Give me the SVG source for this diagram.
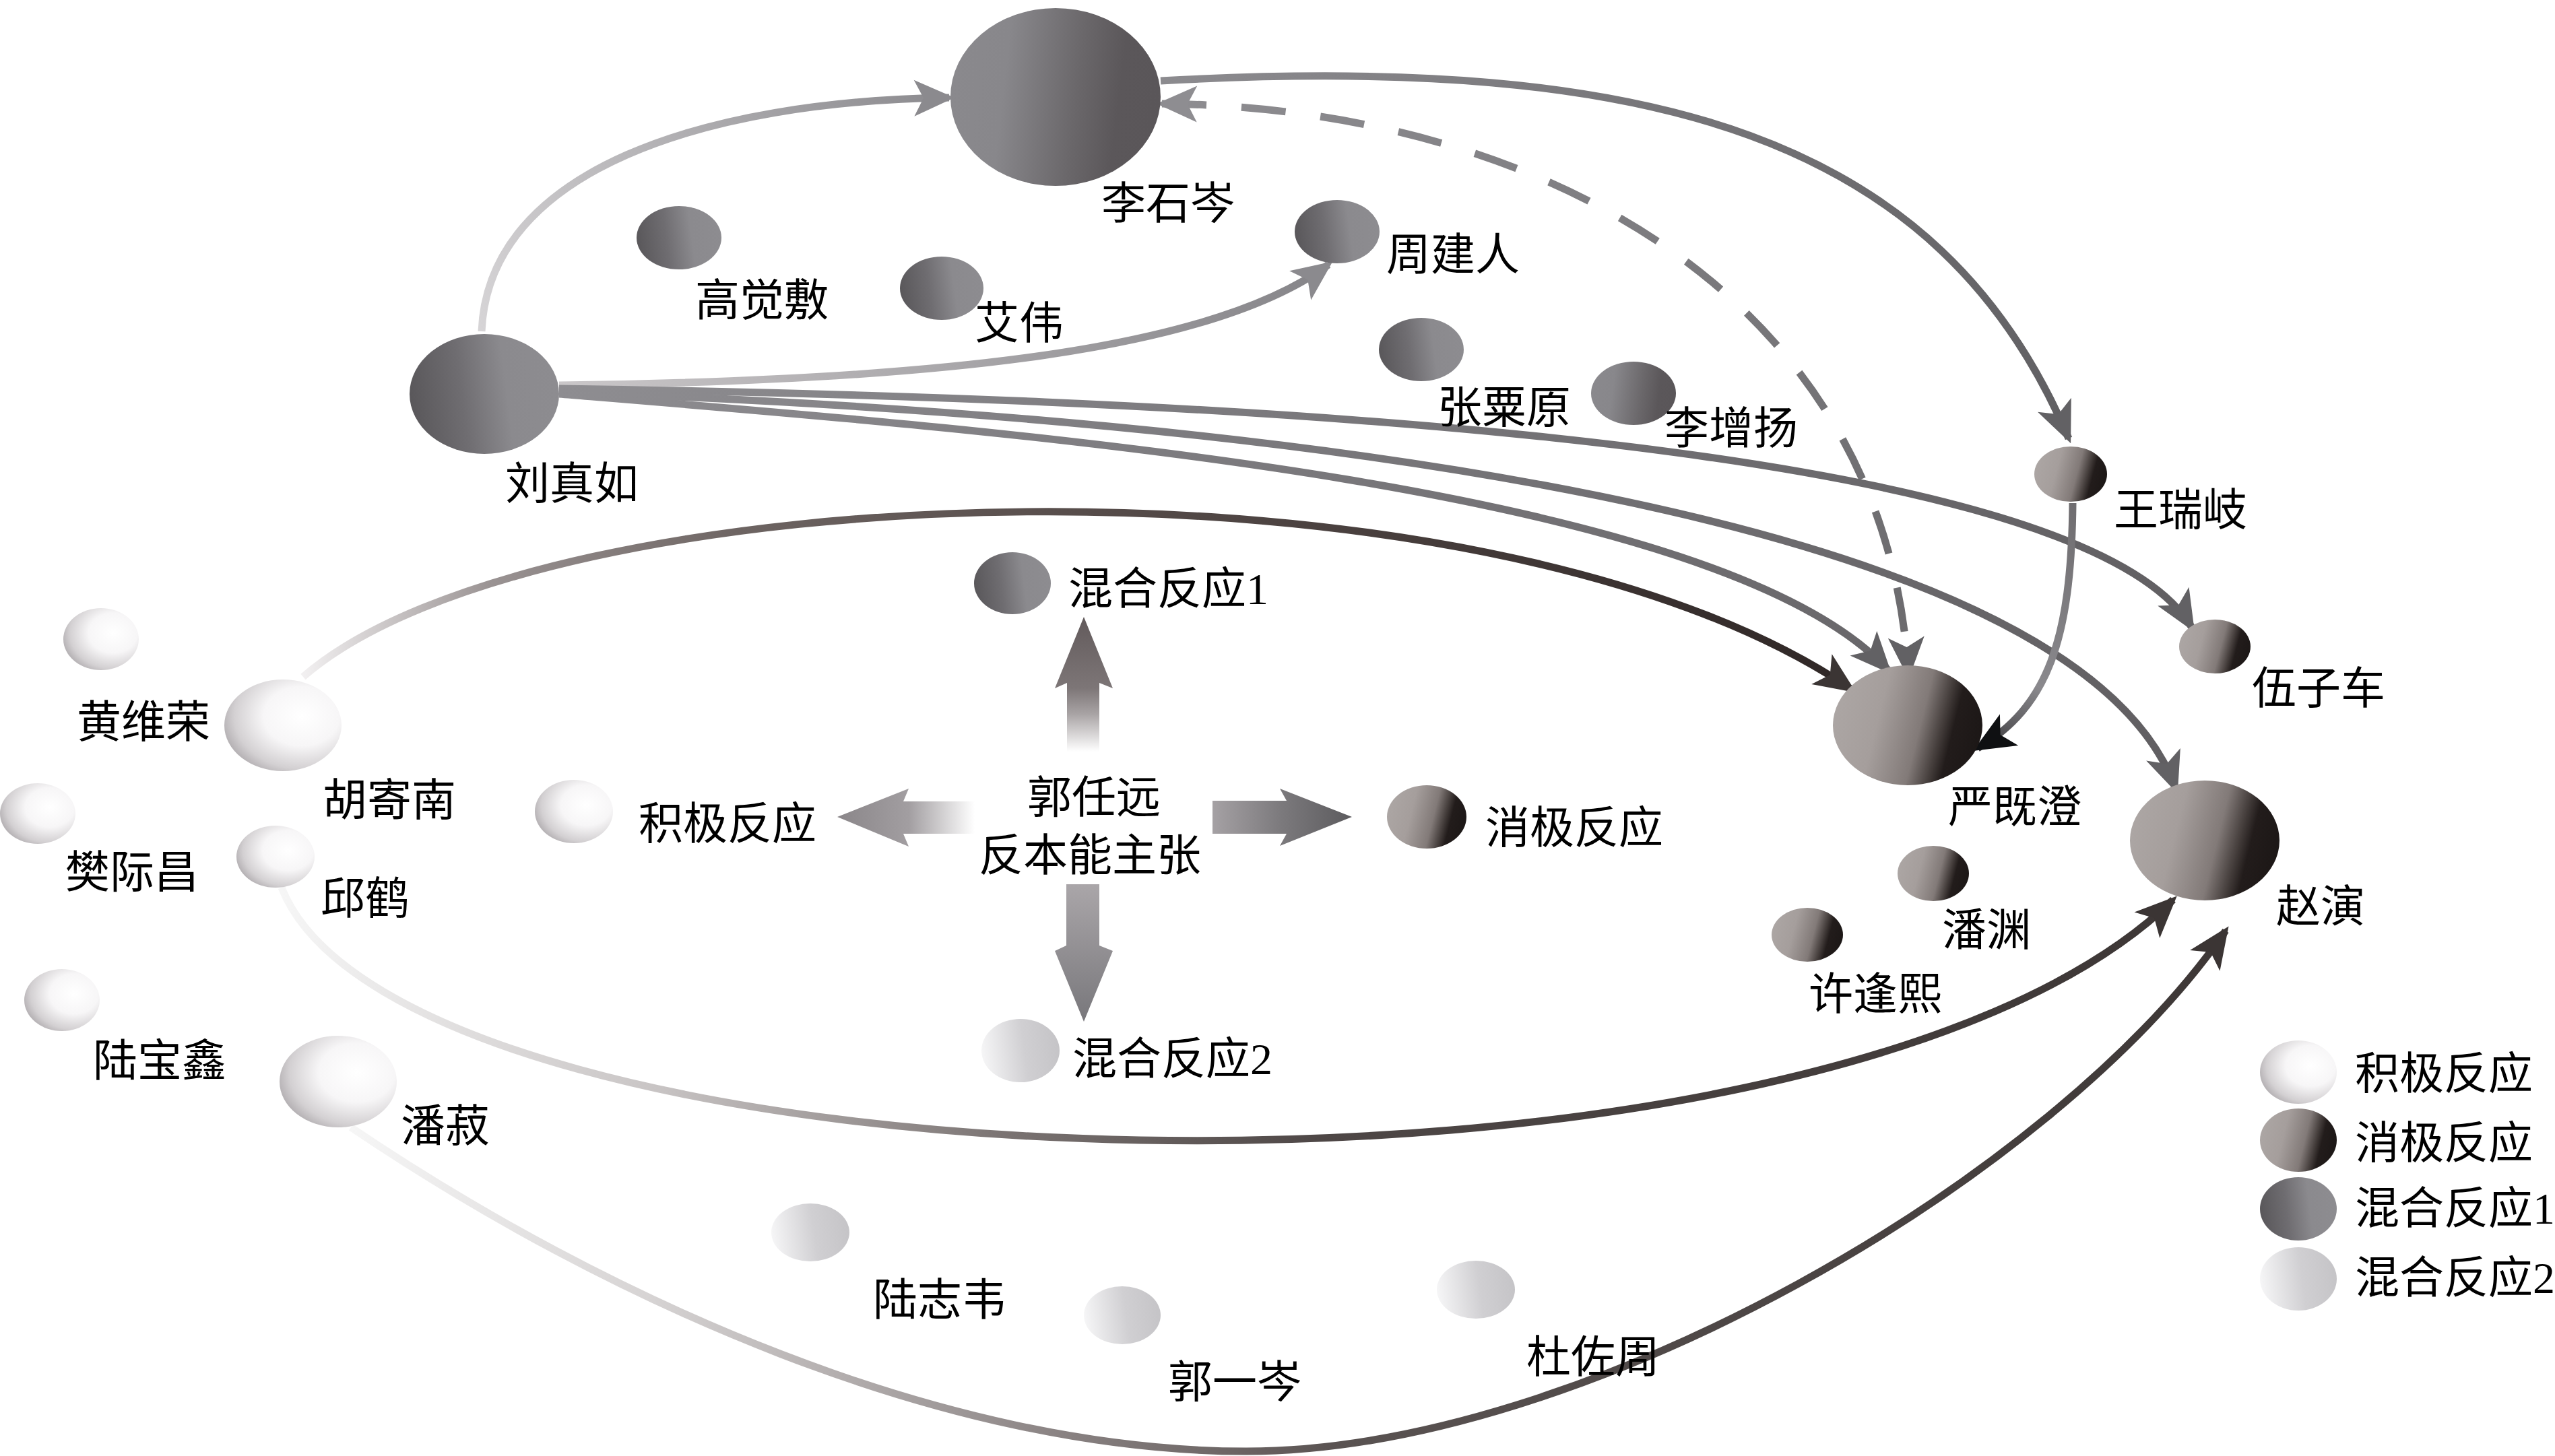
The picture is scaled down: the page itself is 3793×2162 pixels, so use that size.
<svg xmlns="http://www.w3.org/2000/svg" width="3793" height="2162" viewBox="0 0 3793 2162">
<style>
.lbl{font-family:'Liberation Serif','Noto Sans CJK SC',serif;font-size:66px;fill:#000}
.conn{fill:none;stroke-width:11}
</style>
<defs>
<radialGradient id="gPos" cx="0.66" cy="0.4" r="0.72">
<stop offset="0" stop-color="#ffffff"/><stop offset="0.45" stop-color="#f7f6f7"/><stop offset="0.8" stop-color="#d3d0d2"/><stop offset="1" stop-color="#aca8ab"/>
</radialGradient>
<linearGradient id="gNeg" x1="0" y1="0.4" x2="1" y2="0.6">
<stop offset="0" stop-color="#aca6a4"/><stop offset="0.3" stop-color="#a59e9c"/><stop offset="0.58" stop-color="#827a78"/><stop offset="0.72" stop-color="#453e3c"/><stop offset="0.8" stop-color="#221c1b"/><stop offset="1" stop-color="#1c1716"/>
</linearGradient>
<linearGradient id="gMix1" x1="0" y1="0.55" x2="1" y2="0.45">
<stop offset="0" stop-color="#59575a"/><stop offset="0.35" stop-color="#6f6d71"/><stop offset="0.65" stop-color="#8b8a8e"/><stop offset="1" stop-color="#8d8c90"/>
</linearGradient>
<linearGradient id="gMix1r" x1="0" y1="0.45" x2="1" y2="0.55">
<stop offset="0" stop-color="#8a898d"/><stop offset="0.25" stop-color="#88878b"/><stop offset="0.6" stop-color="#6a676a"/><stop offset="0.8" stop-color="#5b575a"/><stop offset="1" stop-color="#5a5659"/>
</linearGradient>
<linearGradient id="gMix2" x1="0" y1="0.55" x2="1" y2="0.45">
<stop offset="0" stop-color="#f6f6f7"/><stop offset="0.55" stop-color="#d0cfd2"/><stop offset="1" stop-color="#c5c4c7"/>
</linearGradient>
<linearGradient id="gc1" gradientUnits="userSpaceOnUse" x1="715" y1="492" x2="1409" y2="145">
<stop offset="0" stop-color="#d6d4d6"/><stop offset="1" stop-color="#8b8a8e"/>
</linearGradient>
<linearGradient id="gc2" gradientUnits="userSpaceOnUse" x1="1723" y1="120" x2="3071" y2="651">
<stop offset="0" stop-color="#8c8b8f"/><stop offset="1" stop-color="#605f62"/>
</linearGradient>
<linearGradient id="gc3" gradientUnits="userSpaceOnUse" x1="1725" y1="154" x2="2833" y2="1000">
<stop offset="0" stop-color="#8e8d91"/><stop offset="1" stop-color="#6b6a6d"/>
</linearGradient>
<linearGradient id="gc4" gradientUnits="userSpaceOnUse" x1="830" y1="572" x2="1972" y2="393">
<stop offset="0" stop-color="#cac7c9"/><stop offset="0.5" stop-color="#a9a7aa"/><stop offset="1" stop-color="#858488"/>
</linearGradient>
<linearGradient id="gc5" gradientUnits="userSpaceOnUse" x1="830" y1="580" x2="3250" y2="1100">
<stop offset="0" stop-color="#8e8d91"/><stop offset="1" stop-color="#605e61"/>
</linearGradient>
<linearGradient id="gc8" gradientUnits="userSpaceOnUse" x1="450" y1="1005" x2="2749" y2="1024">
<stop offset="0" stop-color="#f2f0f1"/><stop offset="0.12" stop-color="#9a9393"/><stop offset="0.28" stop-color="#6d6462"/><stop offset="0.5" stop-color="#574d4b"/><stop offset="1" stop-color="#2f2726"/>
</linearGradient>
<linearGradient id="gc9" gradientUnits="userSpaceOnUse" x1="3077" y1="747" x2="2936" y2="1111">
<stop offset="0" stop-color="#6f6d70"/><stop offset="0.7" stop-color="#8a898d"/><stop offset="1" stop-color="#3a393c"/>
</linearGradient>
<linearGradient id="gc10" gradientUnits="userSpaceOnUse" x1="418" y1="1318" x2="3226" y2="1336">
<stop offset="0" stop-color="#f6f6f6"/><stop offset="0.2" stop-color="#c8c4c4"/><stop offset="0.38" stop-color="#7b7473"/><stop offset="0.55" stop-color="#4e4746"/><stop offset="1" stop-color="#3d3736"/>
</linearGradient>
<linearGradient id="gc11" gradientUnits="userSpaceOnUse" x1="521" y1="1674" x2="3304" y2="1382">
<stop offset="0" stop-color="#f6f6f6"/><stop offset="0.15" stop-color="#d6d3d3"/><stop offset="0.35" stop-color="#8c8585"/><stop offset="0.5" stop-color="#5a5352"/><stop offset="1" stop-color="#3d3736"/>
</linearGradient>
<linearGradient id="gUp" gradientUnits="userSpaceOnUse" x1="0" y1="916" x2="0" y2="1116">
<stop offset="0" stop-color="#625a5b"/><stop offset="0.53" stop-color="#7d7677"/><stop offset="0.72" stop-color="#a8a3a4"/><stop offset="1" stop-color="#ffffff"/>
</linearGradient>
<linearGradient id="gLeft" gradientUnits="userSpaceOnUse" x1="1243" y1="0" x2="1447" y2="0">
<stop offset="0" stop-color="#8a8689"/><stop offset="0.52" stop-color="#a29ea1"/><stop offset="1" stop-color="#ffffff"/>
</linearGradient>
<linearGradient id="gRight" gradientUnits="userSpaceOnUse" x1="1800" y1="0" x2="2007" y2="0">
<stop offset="0" stop-color="#a5a1a4"/><stop offset="0.5" stop-color="#7b797c"/><stop offset="1" stop-color="#5c5b5e"/>
</linearGradient>
<linearGradient id="gDown" gradientUnits="userSpaceOnUse" x1="0" y1="1313" x2="0" y2="1517">
<stop offset="0" stop-color="#aaa6a9"/><stop offset="1" stop-color="#78777b"/>
</linearGradient>
<marker id="mLight" markerUnits="userSpaceOnUse" viewBox="-66 -30 70 60" refX="-8" refY="0" markerWidth="70" markerHeight="60" orient="auto"><path d="M0,0 L-60,-27 L-46,0 L-60,27 Z" fill="#8b8a8e"/></marker>
<marker id="mLightS" markerUnits="userSpaceOnUse" viewBox="-66 -30 70 60" refX="-8" refY="0" markerWidth="70" markerHeight="60" orient="auto-start-reverse"><path d="M0,0 L-60,-27 L-46,0 L-60,27 Z" fill="#8e8d91"/></marker>
<marker id="mMid" markerUnits="userSpaceOnUse" viewBox="-66 -30 70 60" refX="-8" refY="0" markerWidth="70" markerHeight="60" orient="auto"><path d="M0,0 L-62,-27 L-47,0 L-62,27 Z" fill="#626164"/></marker>
<marker id="mDark" markerUnits="userSpaceOnUse" viewBox="-66 -30 70 60" refX="-8" refY="0" markerWidth="70" markerHeight="60" orient="auto"><path d="M0,0 L-62,-27 L-47,0 L-62,27 Z" fill="#3b3534"/></marker>
<marker id="mBlack" markerUnits="userSpaceOnUse" viewBox="-66 -30 70 60" refX="-8" refY="0" markerWidth="70" markerHeight="60" orient="auto"><path d="M0,0 L-62,-27 L-47,0 L-62,27 Z" fill="#0f1012"/></marker>
</defs>
<rect width="3793" height="2162" fill="#ffffff"/>

<g id="connectors">
<path class="conn" stroke="url(#gc1)" d="M 715 492 C 725 250, 1050 150, 1409 145" marker-end="url(#mLight)"/>
<path class="conn" stroke="url(#gc2)" d="M 1723 120 C 2450 80, 2880 200, 3071 651" marker-end="url(#mMid)"/>
<path class="conn" stroke="url(#gc3)" stroke-dasharray="66 52" stroke-width="10" d="M 1725 154 C 2300 160, 2800 450, 2833 1000" marker-start="url(#mLightS)" marker-end="url(#mMid)"/>
<path class="conn" stroke="url(#gc4)" d="M 830 572 C 1400 565, 1800 520, 1972 393" marker-end="url(#mLight)"/>
<path class="conn" stroke="url(#gc5)" d="M 830 577 C 1700 590, 3080 640, 3254 932" marker-end="url(#mMid)"/>
<path class="conn" stroke="url(#gc5)" d="M 830 582 C 1900 620, 3080 760, 3230 1171" marker-end="url(#mMid)"/>
<path class="conn" stroke="url(#gc5)" d="M 830 585 C 1500 640, 2550 720, 2803 995" marker-end="url(#mMid)"/>
<path class="conn" stroke="url(#gc8)" d="M 450 1005 C 800 700, 2200 650, 2749 1024" marker-end="url(#mDark)"/>
<path class="conn" stroke="url(#gc9)" d="M 3077 747 C 3075 950, 3040 1050, 2936 1111" marker-end="url(#mBlack)"/>
<path class="conn" stroke="url(#gc10)" d="M 418 1318 C 600 1780, 2700 1850, 3226 1336" marker-end="url(#mDark)"/>
<path class="conn" stroke="url(#gc11)" d="M 521 1674 C 900 1930, 1400 2155, 1850 2155 C 2350 2155, 3050 1750, 3304 1382" marker-end="url(#mDark)"/>
</g>

<g id="center">
<polygon fill="url(#gUp)" points="1609,916 1652,1022 1632,1014 1632,1116 1584,1116 1584,1014 1566,1022"/>
<polygon fill="url(#gLeft)" points="1243,1213 1349,1171 1341,1190 1447,1190 1447,1238 1341,1238 1349,1257"/>
<polygon fill="url(#gRight)" points="1800,1189 1910,1189 1900,1171 2007,1213 1900,1256 1910,1238 1800,1238"/>
<polygon fill="url(#gDown)" points="1583,1313 1632,1313 1632,1404 1652,1412 1609,1517 1566,1412 1583,1404"/>
<text class="lbl" x="1624" y="1207" text-anchor="middle">郭任远</text>
<text class="lbl" x="1618" y="1293" text-anchor="middle">反本能主张</text>
</g>

<g id="n-lishicen"><ellipse cx="1567" cy="144" rx="156" ry="132" fill="url(#gMix1r)"/><text class="lbl" x="1635" y="325">李石岑</text></g>
<g id="n-gaojuefu"><ellipse cx="1008" cy="353" rx="63" ry="47" fill="url(#gMix1)"/><text class="lbl" x="1032" y="469">高觉敷</text></g>
<g id="n-aiwei"><ellipse cx="1398" cy="428" rx="62" ry="47" fill="url(#gMix1)"/><text class="lbl" x="1447" y="503">艾伟</text></g>
<g id="n-zhoujianren"><ellipse cx="1985" cy="344" rx="63" ry="47" fill="url(#gMix1)"/><text class="lbl" x="2058" y="401">周建人</text></g>
<g id="n-liuzhenru"><ellipse cx="719" cy="585" rx="111" ry="89" fill="url(#gMix1)"/><text class="lbl" x="750" y="741">刘真如</text></g>
<g id="n-zhangsuyuan"><ellipse cx="2110" cy="519" rx="63" ry="47" fill="url(#gMix1)"/><text class="lbl" x="2134" y="628">张粟原</text></g>
<g id="n-lizengyang"><ellipse cx="2425" cy="584" rx="63" ry="47" fill="url(#gMix1r)"/><text class="lbl" x="2471" y="659">李增扬</text></g>
<g id="n-wangruiqi"><ellipse cx="3074" cy="704" rx="54" ry="41" fill="url(#gNeg)"/><text class="lbl" x="3138" y="780">王瑞岐</text></g>
<g id="n-wuziche"><ellipse cx="3288" cy="960" rx="53" ry="40" fill="url(#gNeg)"/><text class="lbl" x="3343" y="1045">伍子车</text></g>
<g id="n-mix1"><ellipse cx="1503" cy="866" rx="57" ry="46" fill="url(#gMix1)"/><text class="lbl" x="1586" y="897">混合反应1</text></g>
<g id="n-huangweirong"><ellipse cx="150" cy="949" rx="56" ry="46" fill="url(#gPos)"/><text class="lbl" x="114" y="1095">黄维荣</text></g>
<g id="n-hujinan"><ellipse cx="420" cy="1077" rx="87" ry="68" fill="url(#gPos)"/><text class="lbl" x="479" y="1211">胡寄南</text></g>
<g id="n-fanjichang"><ellipse cx="56" cy="1208" rx="56" ry="45" fill="url(#gPos)"/><text class="lbl" x="97" y="1318">樊际昌</text></g>
<g id="n-qiuhe"><ellipse cx="409" cy="1272" rx="58" ry="46" fill="url(#gPos)"/><text class="lbl" x="476" y="1357">邱鹤</text></g>
<g id="n-pos"><ellipse cx="852" cy="1205" rx="58" ry="47" fill="url(#gPos)"/><text class="lbl" x="948" y="1246">积极反应</text></g>
<g id="n-neg"><ellipse cx="2118" cy="1213" rx="59" ry="47" fill="url(#gNeg)"/><text class="lbl" x="2205" y="1252">消极反应</text></g>
<g id="n-yanjicheng"><ellipse cx="2832" cy="1077" rx="111" ry="89" fill="url(#gNeg)"/><text class="lbl" x="2892" y="1221">严既澄</text></g>
<g id="n-zhaoyan"><ellipse cx="3273" cy="1248" rx="111" ry="89" fill="url(#gNeg)"/><text class="lbl" x="3379" y="1369">赵演</text></g>
<g id="n-panyuan"><ellipse cx="2870" cy="1297" rx="53" ry="41" fill="url(#gNeg)"/><text class="lbl" x="2883" y="1404">潘渊</text></g>
<g id="n-xufengxi"><ellipse cx="2683" cy="1388" rx="53" ry="40" fill="url(#gNeg)"/><text class="lbl" x="2685" y="1499">许逢熙</text></g>
<g id="n-lubaoxin"><ellipse cx="92" cy="1485" rx="56" ry="46" fill="url(#gPos)"/><text class="lbl" x="138" y="1598">陆宝鑫</text></g>
<g id="n-panshu"><ellipse cx="502" cy="1606" rx="87" ry="68" fill="url(#gPos)"/><text class="lbl" x="595" y="1695">潘菽</text></g>
<g id="n-mix2"><ellipse cx="1515" cy="1560" rx="58" ry="47" fill="url(#gMix2)"/><text class="lbl" x="1592" y="1595">混合反应2</text></g>
<g id="n-luzhiwei"><ellipse cx="1203" cy="1830" rx="58" ry="43" fill="url(#gMix2)"/><text class="lbl" x="1296" y="1953">陆志韦</text></g>
<g id="n-guoyicen"><ellipse cx="1666" cy="1953" rx="57" ry="43" fill="url(#gMix2)"/><text class="lbl" x="1734" y="2075">郭一岑</text></g>
<g id="n-duzuozhou"><ellipse cx="2191" cy="1915" rx="58" ry="43" fill="url(#gMix2)"/><text class="lbl" x="2266" y="2038">杜佐周</text></g>

<g id="legend">
<ellipse cx="3412" cy="1592" rx="57" ry="47" fill="url(#gPos)"/><text class="lbl" x="3496" y="1617">积极反应</text>
<ellipse cx="3412" cy="1693" rx="57" ry="47" fill="url(#gNeg)"/><text class="lbl" x="3496" y="1720">消极反应</text>
<ellipse cx="3412" cy="1795" rx="57" ry="47" fill="url(#gMix1)"/><text class="lbl" x="3496" y="1817">混合反应1</text>
<ellipse cx="3412" cy="1899" rx="57" ry="47" fill="url(#gMix2)"/><text class="lbl" x="3496" y="1920">混合反应2</text>
</g>
</svg>
